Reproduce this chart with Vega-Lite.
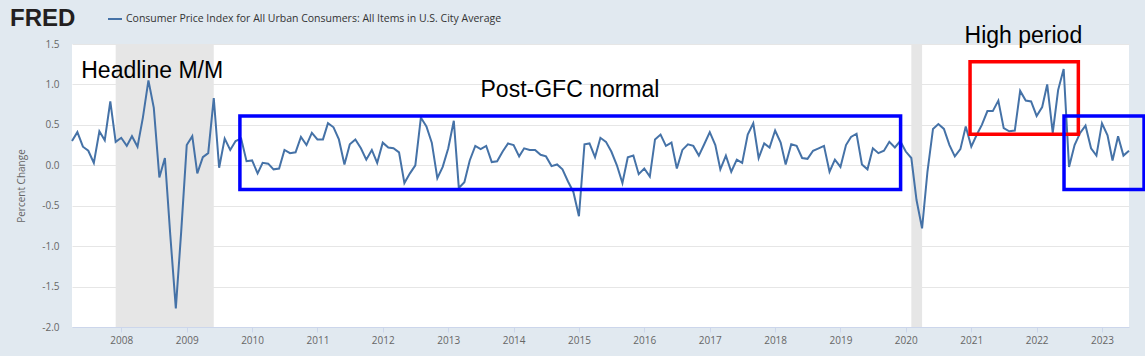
{
  "$schema": "https://vega.github.io/schema/vega-lite/v6.json",
  "width": 1057,
  "height": 283,
  "autosize": {"type": "none"},
  "padding": {"left": 72, "top": 44, "right": 16, "bottom": 29},
  "background": "#e1e9f0",
  "config": {"view": {"fill": "white", "stroke": null}},
  "title": {"text": "FRED", "anchor": "start", "frame": "group", "dx": -62, "dy": 39, "offset": 0, "font": "Liberation Sans", "fontSize": 24, "fontWeight": "bold", "color": "#231f20", "baseline": "alphabetic"},
  "datasets": {
    "cpi": [
      {"date": "2007-04-01", "value": 0.30}, {"date": "2007-05-01", "value": 0.41}, {"date": "2007-06-01", "value": 0.23}, {"date": "2007-07-01", "value": 0.18}, {"date": "2007-08-01", "value": 0.03}, {"date": "2007-09-01", "value": 0.42}, {"date": "2007-10-01", "value": 0.31}, {"date": "2007-11-01", "value": 0.79}, {"date": "2007-12-01", "value": 0.29},
      {"date": "2008-01-01", "value": 0.34}, {"date": "2008-02-01", "value": 0.24}, {"date": "2008-03-01", "value": 0.36}, {"date": "2008-04-01", "value": 0.23}, {"date": "2008-05-01", "value": 0.59}, {"date": "2008-06-01", "value": 1.05}, {"date": "2008-07-01", "value": 0.71}, {"date": "2008-08-01", "value": -0.15}, {"date": "2008-09-01", "value": 0.09}, {"date": "2008-10-01", "value": -0.86}, {"date": "2008-11-01", "value": -1.77}, {"date": "2008-12-01", "value": -0.82},
      {"date": "2009-01-01", "value": 0.25}, {"date": "2009-02-01", "value": 0.36}, {"date": "2009-03-01", "value": -0.10}, {"date": "2009-04-01", "value": 0.10}, {"date": "2009-05-01", "value": 0.15}, {"date": "2009-06-01", "value": 0.83}, {"date": "2009-07-01", "value": -0.03}, {"date": "2009-08-01", "value": 0.33}, {"date": "2009-09-01", "value": 0.19}, {"date": "2009-10-01", "value": 0.30}, {"date": "2009-11-01", "value": 0.33}, {"date": "2009-12-01", "value": 0.05},
      {"date": "2010-01-01", "value": 0.06}, {"date": "2010-02-01", "value": -0.10}, {"date": "2010-03-01", "value": 0.03}, {"date": "2010-04-01", "value": 0.02}, {"date": "2010-05-01", "value": -0.05}, {"date": "2010-06-01", "value": -0.04}, {"date": "2010-07-01", "value": 0.19}, {"date": "2010-08-01", "value": 0.15}, {"date": "2010-09-01", "value": 0.16}, {"date": "2010-10-01", "value": 0.35}, {"date": "2010-11-01", "value": 0.25}, {"date": "2010-12-01", "value": 0.40},
      {"date": "2011-01-01", "value": 0.32}, {"date": "2011-02-01", "value": 0.32}, {"date": "2011-03-01", "value": 0.52}, {"date": "2011-04-01", "value": 0.47}, {"date": "2011-05-01", "value": 0.32}, {"date": "2011-06-01", "value": 0.01}, {"date": "2011-07-01", "value": 0.26}, {"date": "2011-08-01", "value": 0.32}, {"date": "2011-09-01", "value": 0.21}, {"date": "2011-10-01", "value": 0.07}, {"date": "2011-11-01", "value": 0.19}, {"date": "2011-12-01", "value": 0.03},
      {"date": "2012-01-01", "value": 0.28}, {"date": "2012-02-01", "value": 0.22}, {"date": "2012-03-01", "value": 0.21}, {"date": "2012-04-01", "value": 0.16}, {"date": "2012-05-01", "value": -0.22}, {"date": "2012-06-01", "value": -0.10}, {"date": "2012-07-01", "value": 0.00}, {"date": "2012-08-01", "value": 0.59}, {"date": "2012-09-01", "value": 0.48}, {"date": "2012-10-01", "value": 0.28}, {"date": "2012-11-01", "value": -0.16}, {"date": "2012-12-01", "value": -0.02},
      {"date": "2013-01-01", "value": 0.21}, {"date": "2013-02-01", "value": 0.55}, {"date": "2013-03-01", "value": -0.28}, {"date": "2013-04-01", "value": -0.21}, {"date": "2013-05-01", "value": 0.06}, {"date": "2013-06-01", "value": 0.24}, {"date": "2013-07-01", "value": 0.20}, {"date": "2013-08-01", "value": 0.24}, {"date": "2013-09-01", "value": 0.04}, {"date": "2013-10-01", "value": 0.05}, {"date": "2013-11-01", "value": 0.17}, {"date": "2013-12-01", "value": 0.27},
      {"date": "2014-01-01", "value": 0.25}, {"date": "2014-02-01", "value": 0.11}, {"date": "2014-03-01", "value": 0.21}, {"date": "2014-04-01", "value": 0.19}, {"date": "2014-05-01", "value": 0.19}, {"date": "2014-06-01", "value": 0.13}, {"date": "2014-07-01", "value": 0.11}, {"date": "2014-08-01", "value": -0.01}, {"date": "2014-09-01", "value": 0.01}, {"date": "2014-10-01", "value": -0.05}, {"date": "2014-11-01", "value": -0.20}, {"date": "2014-12-01", "value": -0.33},
      {"date": "2015-01-01", "value": -0.63}, {"date": "2015-02-01", "value": 0.26}, {"date": "2015-03-01", "value": 0.27}, {"date": "2015-04-01", "value": 0.10}, {"date": "2015-05-01", "value": 0.34}, {"date": "2015-06-01", "value": 0.29}, {"date": "2015-07-01", "value": 0.17}, {"date": "2015-08-01", "value": 0.00}, {"date": "2015-09-01", "value": -0.22}, {"date": "2015-10-01", "value": 0.10}, {"date": "2015-11-01", "value": 0.12}, {"date": "2015-12-01", "value": -0.11},
      {"date": "2016-01-01", "value": -0.04}, {"date": "2016-02-01", "value": -0.14}, {"date": "2016-03-01", "value": 0.32}, {"date": "2016-04-01", "value": 0.38}, {"date": "2016-05-01", "value": 0.24}, {"date": "2016-06-01", "value": 0.28}, {"date": "2016-07-01", "value": -0.04}, {"date": "2016-08-01", "value": 0.19}, {"date": "2016-09-01", "value": 0.26}, {"date": "2016-10-01", "value": 0.24}, {"date": "2016-11-01", "value": 0.12}, {"date": "2016-12-01", "value": 0.26},
      {"date": "2017-01-01", "value": 0.41}, {"date": "2017-02-01", "value": 0.25}, {"date": "2017-03-01", "value": -0.05}, {"date": "2017-04-01", "value": 0.12}, {"date": "2017-05-01", "value": -0.08}, {"date": "2017-06-01", "value": 0.07}, {"date": "2017-07-01", "value": 0.03}, {"date": "2017-08-01", "value": 0.38}, {"date": "2017-09-01", "value": 0.52}, {"date": "2017-10-01", "value": 0.09}, {"date": "2017-11-01", "value": 0.27}, {"date": "2017-12-01", "value": 0.22},
      {"date": "2018-01-01", "value": 0.43}, {"date": "2018-02-01", "value": 0.28}, {"date": "2018-03-01", "value": 0.01}, {"date": "2018-04-01", "value": 0.26}, {"date": "2018-05-01", "value": 0.24}, {"date": "2018-06-01", "value": 0.09}, {"date": "2018-07-01", "value": 0.08}, {"date": "2018-08-01", "value": 0.18}, {"date": "2018-09-01", "value": 0.21}, {"date": "2018-10-01", "value": 0.24}, {"date": "2018-11-01", "value": -0.08}, {"date": "2018-12-01", "value": 0.07},
      {"date": "2019-01-01", "value": -0.02}, {"date": "2019-02-01", "value": 0.25}, {"date": "2019-03-01", "value": 0.35}, {"date": "2019-04-01", "value": 0.39}, {"date": "2019-05-01", "value": 0.01}, {"date": "2019-06-01", "value": -0.05}, {"date": "2019-07-01", "value": 0.21}, {"date": "2019-08-01", "value": 0.15}, {"date": "2019-09-01", "value": 0.18}, {"date": "2019-10-01", "value": 0.29}, {"date": "2019-11-01", "value": 0.22}, {"date": "2019-12-01", "value": 0.30},
      {"date": "2020-01-01", "value": 0.17}, {"date": "2020-02-01", "value": 0.09}, {"date": "2020-03-01", "value": -0.43}, {"date": "2020-04-01", "value": -0.78}, {"date": "2020-05-01", "value": -0.08}, {"date": "2020-06-01", "value": 0.45}, {"date": "2020-07-01", "value": 0.51}, {"date": "2020-08-01", "value": 0.45}, {"date": "2020-09-01", "value": 0.25}, {"date": "2020-10-01", "value": 0.11}, {"date": "2020-11-01", "value": 0.20}, {"date": "2020-12-01", "value": 0.48},
      {"date": "2021-01-01", "value": 0.23}, {"date": "2021-02-01", "value": 0.38}, {"date": "2021-03-01", "value": 0.50}, {"date": "2021-04-01", "value": 0.67}, {"date": "2021-05-01", "value": 0.67}, {"date": "2021-06-01", "value": 0.80}, {"date": "2021-07-01", "value": 0.46}, {"date": "2021-08-01", "value": 0.42}, {"date": "2021-09-01", "value": 0.43}, {"date": "2021-10-01", "value": 0.92}, {"date": "2021-11-01", "value": 0.80}, {"date": "2021-12-01", "value": 0.79},
      {"date": "2022-01-01", "value": 0.61}, {"date": "2022-02-01", "value": 0.72}, {"date": "2022-03-01", "value": 1.00}, {"date": "2022-04-01", "value": 0.40}, {"date": "2022-05-01", "value": 0.93}, {"date": "2022-06-01", "value": 1.19}, {"date": "2022-07-01", "value": -0.02}, {"date": "2022-08-01", "value": 0.25}, {"date": "2022-09-01", "value": 0.40}, {"date": "2022-10-01", "value": 0.49}, {"date": "2022-11-01", "value": 0.21}, {"date": "2022-12-01", "value": 0.12},
      {"date": "2023-01-01", "value": 0.52}, {"date": "2023-02-01", "value": 0.37}, {"date": "2023-03-01", "value": 0.06}, {"date": "2023-04-01", "value": 0.36}, {"date": "2023-05-01", "value": 0.12}, {"date": "2023-06-01", "value": 0.18}
    ],
    "recessions": [
      {"start": "2007-12-01", "end": "2009-06-01"},
      {"start": "2020-02-01", "end": "2020-04-01"}
    ],
    "boxes": [
      {"kind": "normal", "start": "2009-10-25", "end": "2019-12-03", "top": 0.61, "bottom": -0.30},
      {"kind": "normal", "start": "2022-06-03", "end": "2023-08-24", "top": 0.61, "bottom": -0.30},
      {"kind": "high", "start": "2020-12-25", "end": "2022-08-22", "top": 1.282, "bottom": 0.385}
    ],
    "notes": [
      {"label": "Headline M/M", "date": "2008-06-22", "value": 1.076},
      {"label": "Post-GFC normal", "date": "2014-11-12", "value": 0.84},
      {"label": "High period", "date": "2021-10-19", "value": 1.517}
    ]
  },
  "layer": [
    {
      "data": {"name": "recessions"},
      "mark": {"type": "rect", "color": "#e6e6e6"},
      "encoding": {
        "x": {"field": "start", "type": "temporal", "scale": {"type": "utc"}},
        "x2": {"field": "end"}
      }
    },
    {
      "mark": {"type": "rule", "color": "#000000", "strokeWidth": 1.5},
      "encoding": {"y": {"datum": 0, "type": "quantitative"}}
    },
    {
      "data": {"name": "cpi"},
      "mark": {"type": "line", "strokeWidth": 2},
      "encoding": {
        "x": {
          "field": "date", "type": "temporal",
          "scale": {"type": "utc", "domain": [{"year": 2007, "month": 4, "date": 1, "utc": true}, {"year": 2023, "month": 6, "date": 1, "utc": true}]},
          "axis": {"title": null, "format": "%Y", "tickCount": {"interval": "year", "step": 1}, "grid": false, "tickSize": 5, "tickColor": "#ccd6eb", "domainColor": "#ccd6eb", "labelPadding": 3, "labelFont": "Open Sans", "labelFontSize": 10, "labelColor": "#666666"}
        },
        "y": {
          "field": "value", "type": "quantitative",
          "scale": {"domain": [-2, 1.5], "nice": false, "zero": false},
          "axis": {"title": "Percent Change", "values": [-2, -1.5, -1, -0.5, 0, 0.5, 1, 1.5], "labelExpr": "replace(format(datum.value, '.1f'), '\u2212', '-')", "grid": true, "gridColor": "#e6e6e6", "ticks": false, "domain": false, "labelPadding": 13, "labelFont": "Open Sans", "labelFontSize": 10, "labelColor": "#666666", "titleFont": "Open Sans", "titleFontSize": 10, "titleFontWeight": "normal", "titleColor": "#666666", "titleX": -51, "titleY": 141.5, "titleAngle": 270, "titleAlign": "center", "titleBaseline": "middle"}
        },
        "color": {
          "datum": "Consumer Price Index for All Urban Consumers: All Items in U.S. City Average",
          "type": "nominal",
          "scale": {"range": ["#4572a7"]},
          "legend": {"title": null, "orient": "none", "legendX": 35, "legendY": -33, "symbolType": "stroke", "symbolStrokeWidth": 2, "symbolSize": 196, "labelFont": "Open Sans", "labelFontSize": 10.5, "labelColor": "#333333", "labelLimit": 1000, "labelOffset": 3, "padding": 0}
        }
      }
    },
    {
      "data": {"name": "boxes"},
      "transform": [{"filter": "datum.kind == 'high'"}],
      "mark": {"type": "rect", "filled": false, "color": "#ff0000", "strokeWidth": 3.5, "clip": false},
      "encoding": {
        "x": {"field": "start", "type": "temporal"},
        "x2": {"field": "end"},
        "y": {"field": "top", "type": "quantitative"},
        "y2": {"field": "bottom"}
      }
    },
    {
      "data": {"name": "boxes"},
      "transform": [{"filter": "datum.kind == 'normal'"}],
      "mark": {"type": "rect", "filled": false, "color": "#0000ff", "strokeWidth": 3.5, "clip": false},
      "encoding": {
        "x": {"field": "start", "type": "temporal"},
        "x2": {"field": "end"},
        "y": {"field": "top", "type": "quantitative"},
        "y2": {"field": "bottom"}
      }
    },
    {
      "data": {"name": "notes"},
      "mark": {"type": "text", "font": "Liberation Sans", "fontSize": 23, "color": "#000000", "align": "center", "baseline": "alphabetic", "clip": false},
      "encoding": {
        "x": {"field": "date", "type": "temporal"},
        "y": {"field": "value", "type": "quantitative"},
        "text": {"field": "label"}
      }
    }
  ]
}
